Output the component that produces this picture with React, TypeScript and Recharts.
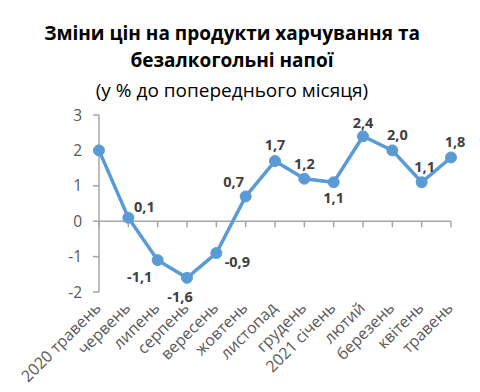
import React from 'react';
import { LineChart, Line, XAxis, YAxis, ReferenceLine, LabelList } from 'recharts';

const months = ['2020 травень', 'червень', 'липень', 'серпень', 'вересень', 'жовтень', 'листопад', 'грудень', '2021 січень', 'лютий', 'березень', 'квітень', 'травень'];
const values = [2.0, 0.1, -1.1, -1.6, -0.9, 0.7, 1.7, 1.2, 1.1, 2.4, 2.0, 1.1, 1.8];
const shownLabels = [false, true, true, true, true, true, true, true, true, true, true, true, true];
const yTicks = [-2, -1, 0, 1, 2, 3];

const data = months.map((m, i) => ({ month: m, value: values[i] }));

// label offsets (dx, dy) relative to the point
const labelPos: [number, number][] = [
    [0, 0], [16, -11], [-18, 17], [-7, 19], [21, 9], [-12, -14], [0, -16],
    [0, -15], [0, 16], [0, -13], [5, -15], [3, -15], [4, -15],
];

const FONT = '"Open Sans", "Noto Sans", sans-serif';
const BLUE = '#5B9BD5';
const AXIS = '#a6a6a6';

const MonthTick = (props: any) => {
    const { x, y, payload } = props;
    const ax = x + 3;
    const ay = y + 15;
    return (
        <text x={ax} y={ay} transform={`rotate(-45 ${ax} ${ay})`} textAnchor="end" fontSize={16} fill="#595959" fontFamily={FONT}>
            {payload.value}
        </text>
    );
};

const ValueLabel = (props: any) => {
    const { x, y, value, index } = props;
    if (!shownLabels[index]) return null;
    const [dx, dy] = labelPos[index];
    return (
        <text x={x + dx} y={y + dy} dy={5} textAnchor="middle" fontSize={14.5} fontWeight="bold" fill="#404040" fontFamily={FONT}>
            {value.toFixed(1).replace('.', ',')}
        </text>
    );
};

const App: React.FC = () => {
    return (
        <div style={{ position: 'absolute', left: 0, top: 0, width: 480, height: 392, background: '#fff', fontFamily: FONT }}>
            <div style={{ position: 'absolute', left: 0, top: 20, width: 464, textAlign: 'center', fontSize: 19, fontWeight: 'bold', lineHeight: '27px', color: '#000' }}>
                Зміни цін на продукти харчування та<br />безалкогольні напої
            </div>
            <div style={{ position: 'absolute', left: 0, top: 76, width: 464, textAlign: 'center', fontSize: 19, lineHeight: '28px', color: '#000' }}>
                (у % до попереднього місяця)
            </div>
            <div style={{ position: 'absolute', left: 0, top: 0 }}>
                <LineChart width={480} height={392} data={data} margin={{ top: 115, right: 29, bottom: 0, left: 0 }}>
                    <XAxis dataKey="month" interval={0} axisLine={false} tickLine={false} tickSize={0} height={100} tick={<MonthTick />} padding={{ left: 0, right: 0 }} />
                    <YAxis domain={[-2, 3]} ticks={yTicks} width={99} tickSize={6} tickMargin={11}
                        axisLine={{ stroke: AXIS, strokeWidth: 1.5 }} tickLine={{ stroke: AXIS, strokeWidth: 1.5 }}
                        tick={{ fontSize: 15.5, fill: '#595959', fontFamily: FONT }} interval={0} />
                    <ReferenceLine y={0} stroke={AXIS} strokeWidth={1.5} />
                    {months.map(m => (
                        <ReferenceLine key={m} segment={[{ x: m, y: 0 }, { x: m, y: -0.17 }]} stroke={AXIS} strokeWidth={1.5} />
                    ))}
                    <Line type="linear" dataKey="value" stroke={BLUE} strokeWidth={3.5} isAnimationActive={false}
                        dot={{ r: 5.5, fill: BLUE, stroke: BLUE, strokeWidth: 1 }} activeDot={false}>
                        <LabelList dataKey="value" content={<ValueLabel />} />
                    </Line>
                </LineChart>
            </div>
        </div>
    );
};

export default App;
